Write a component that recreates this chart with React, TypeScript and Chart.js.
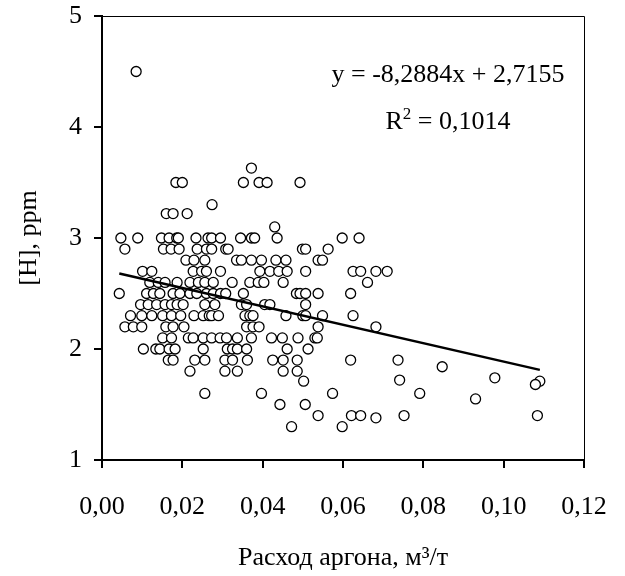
import React, { useEffect, useRef } from "react";
import { Chart, registerables } from "chart.js";

Chart.register(...registerables);

const FONT = "'Liberation Serif', 'Times New Roman', Times, serif";

// Axis ticks and titles
const xTickValues = [0, 0.02, 0.04, 0.06, 0.08, 0.1, 0.12];
const yTickValues = [1, 2, 3, 4, 5];
const xTitle = "Расход аргона, м³/т";
const yTitle = "[H], ppm";

// Trend line annotation
const equationText = "y = -8,2884x + 2,7155";
const r2Base = "R";
const r2Sup = "2";
const r2Rest = " = 0,1014";

// Linear trend line end points (min and max of argon flow)
const trendX = [0.0043, 0.109];
const trendY = [2.68, 1.812];

// Measured points, grouped by hydrogen level: argon flow values (m3/t)
const h450 = [0.0085];
const h360 = [0.0372];
const h350 = [0.0184, 0.02, 0.0352, 0.0391, 0.0411, 0.0493];
const h330 = [0.0274];
const h320 = [0.016, 0.0177, 0.0212];
const h310 = [0.043];
const h300 = [0.0047, 0.0089, 0.0148, 0.0167, 0.0186, 0.019, 0.0234, 0.0264, 0.0273, 0.0295, 0.0345, 0.0372, 0.038, 0.0436, 0.0598, 0.064];
const h290 = [0.0057, 0.0153, 0.0172, 0.0192, 0.0237, 0.026, 0.0273, 0.0308, 0.0314, 0.0499, 0.0507, 0.0563];
const h280 = [0.0209, 0.0229, 0.0256, 0.0335, 0.0347, 0.0372, 0.0397, 0.0433, 0.0458, 0.0538, 0.0549];
const h270 = [0.0101, 0.0124, 0.0227, 0.0248, 0.026, 0.0295, 0.0393, 0.0418, 0.044, 0.0461, 0.0507, 0.0625, 0.0644, 0.0682, 0.071];
const h260 = [0.0119, 0.014, 0.0157, 0.0187, 0.0219, 0.024, 0.0256, 0.0277, 0.0324, 0.0368, 0.0389, 0.0403, 0.0451, 0.0661];
const h250 = [0.0043, 0.0111, 0.0128, 0.0144, 0.0177, 0.0194, 0.0219, 0.0236, 0.026, 0.0277, 0.0295, 0.0308, 0.0352, 0.0484, 0.0493, 0.0507, 0.0538, 0.0619];
const h240 = [0.0096, 0.0115, 0.0136, 0.0157, 0.0173, 0.0187, 0.0202, 0.0256, 0.0281, 0.0347, 0.036, 0.0405, 0.0418, 0.0507];
const h230 = [0.0071, 0.0099, 0.0124, 0.0151, 0.0173, 0.0196, 0.0229, 0.0252, 0.0267, 0.0273, 0.029, 0.0356, 0.0368, 0.0376, 0.0458, 0.05, 0.0507, 0.0549, 0.0625];
const h220 = [0.0057, 0.0078, 0.0099, 0.0159, 0.0177, 0.0204, 0.036, 0.0376, 0.0391, 0.0538, 0.0682];
const h210 = [0.0151, 0.0173, 0.0215, 0.0227, 0.0252, 0.0273, 0.0294, 0.031, 0.0337, 0.0372, 0.0422, 0.0449, 0.0488, 0.053, 0.0536];
const h200 = [0.0103, 0.0134, 0.0144, 0.0167, 0.0182, 0.0252, 0.0312, 0.0325, 0.0337, 0.036, 0.0461, 0.0513];
const h190 = [0.0165, 0.0177, 0.0231, 0.0256, 0.0306, 0.0325, 0.0362, 0.0425, 0.0451, 0.0486, 0.0619, 0.0737];
const h184 = [0.0847];
const h180 = [0.0219, 0.0306, 0.0337, 0.0451, 0.0486];
const h174 = [0.0978];
const h172 = [0.0741];
const h171 = [0.0502, 0.109];
const h168 = [0.1079];
const h160 = [0.0256, 0.0397, 0.0574, 0.0791];
const h155 = [0.093];
const h150 = [0.0443, 0.0506];
const h140 = [0.0538, 0.0621, 0.0644, 0.0752, 0.1084];
const h138 = [0.0682];
const h130 = [0.0472, 0.0598];

const levels: [number, number[]][] = [
  [4.5, h450], [3.63, h360], [3.5, h350], [3.3, h330], [3.22, h320], [3.1, h310],
  [3.0, h300], [2.9, h290], [2.8, h280], [2.7, h270], [2.6, h260], [2.5, h250],
  [2.4, h240], [2.3, h230], [2.2, h220], [2.1, h210], [2.0, h200], [1.9, h190],
  [1.84, h184], [1.8, h180], [1.74, h174], [1.72, h172], [1.71, h171], [1.68, h168],
  [1.6, h160], [1.55, h155], [1.5, h150], [1.4, h140], [1.38, h138], [1.3, h130],
];

const overlayPlugin = {
  id: "overlay",
  afterDraw(chart: any) {
    const { ctx, chartArea } = chart;
    const { left, top, right, bottom } = chartArea;
    ctx.save();
    // thin top and right frame
    ctx.strokeStyle = "#000";
    ctx.lineWidth = 1;
    ctx.beginPath();
    ctx.moveTo(left, Math.round(top) + 0.5);
    ctx.lineTo(Math.round(right) + 0.5, Math.round(top) + 0.5);
    ctx.lineTo(Math.round(right) + 0.5, bottom);
    ctx.stroke();

    // equation
    const cx = 448;
    ctx.fillStyle = "#000";
    ctx.textBaseline = "alphabetic";
    ctx.textAlign = "left";
    ctx.font = `26px ${FONT}`;
    const eqW = ctx.measureText(equationText).width;
    ctx.fillText(equationText, cx - eqW / 2, 82);

    // R^2
    ctx.font = `26px ${FONT}`;
    const wR = ctx.measureText(r2Base).width;
    const wRest = ctx.measureText(r2Rest).width;
    ctx.font = `17px ${FONT}`;
    const wS = ctx.measureText(r2Sup).width;
    const total = wR + wS + wRest;
    let x = cx - total / 2;
    const base = 129;
    ctx.font = `26px ${FONT}`;
    ctx.fillText(r2Base, x, base);
    x += wR;
    ctx.font = `17px ${FONT}`;
    ctx.fillText(r2Sup, x, base - 10);
    x += wS;
    ctx.font = `26px ${FONT}`;
    ctx.fillText(r2Rest, x, base);
    ctx.restore();
  },
};

export default function App() {
  const canvasRef = useRef<HTMLCanvasElement | null>(null);

  useEffect(() => {
    if (!canvasRef.current) return;
    const points: { x: number; y: number }[] = [];
    levels.forEach(([h, xs]) => xs.forEach((x) => points.push({ x, y: h })));
    const trend = trendX.map((x, i) => ({ x, y: trendY[i] }));

    const tickFont = { family: FONT, size: 26 };

    const chart = new Chart(canvasRef.current, {
      type: "scatter",
      data: {
        datasets: [
          {
            label: "trend",
            data: trend,
            showLine: true,
            borderColor: "#000",
            borderWidth: 2.5,
            pointRadius: 0,
            fill: false,
            order: 0,
          } as any,
          {
            label: "[H]",
            data: points,
            pointStyle: "circle",
            pointRadius: 5,
            pointBorderWidth: 1.3,
            pointBackgroundColor: "#fff",
            pointBorderColor: "#000",
            backgroundColor: "#fff",
            borderColor: "#000",
            order: 1,
          },
        ],
      },
      options: {
        animation: false,
        responsive: false,
        maintainAspectRatio: false,
        layout: { autoPadding: false, padding: { top: 16, right: 41, bottom: 0, left: 0 } },
        plugins: {
          legend: { display: false },
          tooltip: { enabled: false },
        },
        scales: {
          x: {
            type: "linear",
            min: 0,
            max: 0.12,
            afterBuildTicks: (s: any) => {
              s.ticks = xTickValues.map((v) => ({ value: v }));
            },
            afterFit: (s: any) => {
              s.height = 116;
              s.paddingLeft = 0;
              s.paddingRight = 0;
              s.paddingTop = 0;
              s.paddingBottom = 0;
            },
            ticks: {
              color: "#000",
              font: tickFont,
              padding: 24,
              maxRotation: 0,
              autoSkip: false,
              callback: (v: any) => Number(v).toFixed(2).replace(".", ","),
            },
            grid: {
              display: true,
              drawOnChartArea: false,
              drawTicks: true,
              tickLength: 8,
              color: "#000",
              lineWidth: 2,
            },
            border: { display: true, color: "#000", width: 2 },
            title: {
              display: true,
              text: xTitle,
              color: "#000",
              font: tickFont,
              padding: { top: 0, bottom: 2 },
            },
          },
          y: {
            type: "linear",
            min: 1,
            max: 5,
            afterBuildTicks: (s: any) => {
              s.ticks = yTickValues.map((v) => ({ value: v }));
            },
            afterFit: (s: any) => {
              s.width = 102;
              s.paddingLeft = 0;
              s.paddingRight = 0;
              s.paddingTop = 0;
              s.paddingBottom = 0;
            },
            ticks: {
              color: "#000",
              font: tickFont,
              padding: 12,
              autoSkip: false,
              callback: (v: any) => String(v),
            },
            grid: {
              display: true,
              drawOnChartArea: false,
              drawTicks: true,
              tickLength: 8,
              color: "#000",
              lineWidth: 2,
            },
            border: { display: true, color: "#000", width: 2 },
            title: {
              display: true,
              text: yTitle,
              color: "#000",
              font: tickFont,
              padding: { top: 14, bottom: 0 },
            },
          },
        },
      } as any,
      plugins: [overlayPlugin],
    });
    return () => chart.destroy();
  }, []);

  return (
    <div style={{ position: "fixed", left: 0, top: 0, width: 625, height: 576, background: "#fff" }}>
      <canvas ref={canvasRef} width={625} height={576} style={{ display: "block" }} />
    </div>
  );
}
